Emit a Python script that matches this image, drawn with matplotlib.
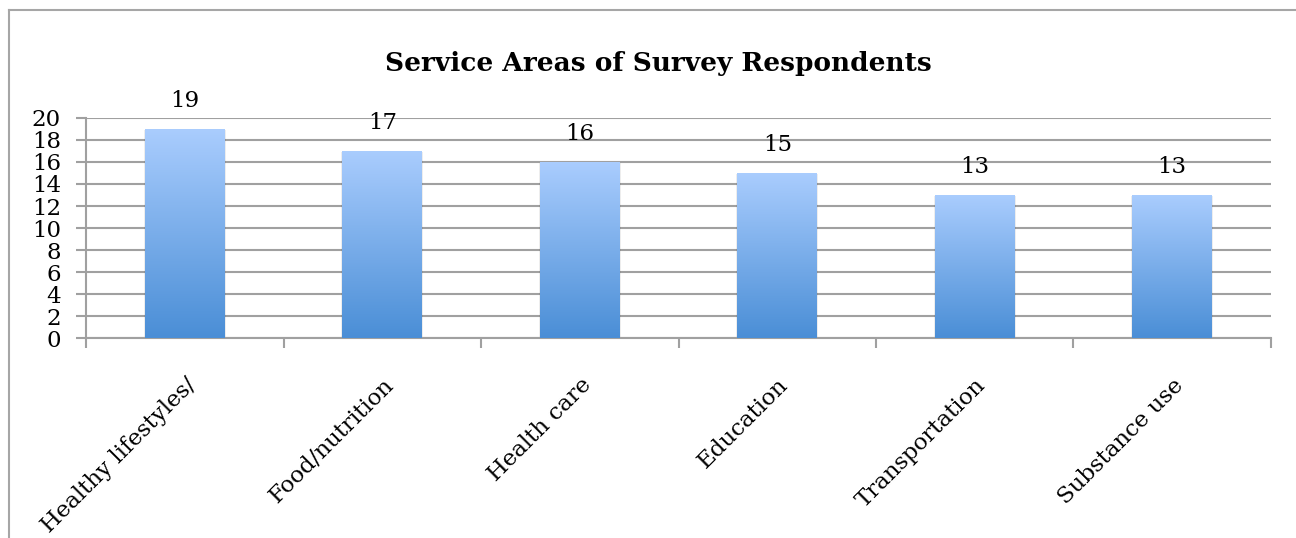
import numpy as np
from matplotlib import pyplot as plt
from matplotlib.colors import LinearSegmentedColormap
from matplotlib.lines import Line2D

categories = ["Healthy lifestyles/", "Food/nutrition", "Health care",
              "Education", "Transportation", "Substance use"]
counts = [19, 17, 16, 15, 13, 13]
y_ticks = [0, 2, 4, 6, 8, 10, 12, 14, 16, 18, 20]

plt.rcParams['font.family'] = ['DejaVu Serif']

fig = plt.figure(figsize=(12.96, 5.38), dpi=100)
ax = fig.add_axes([0.0664, 0.3717, 0.9143, 0.409])

# outer frame (top and left edges only visible)
fig.add_artist(Line2D([0.007, 1.0], [0.981, 0.981], transform=fig.transFigure,
                      color='#A6A6A6', lw=1.5))
fig.add_artist(Line2D([0.007, 0.007], [0.0, 0.981], transform=fig.transFigure,
                      color='#A6A6A6', lw=1.5))

x = np.arange(len(categories))
bars = ax.bar(x, counts, width=0.405, color='none', zorder=3)

grad = LinearSegmentedColormap.from_list('blues', ['#4A8ED6', '#AACDFE'])
gradient = np.linspace(0, 1, 256).reshape(-1, 1)
for b in bars:
    x0, y0 = b.get_x(), b.get_y()
    w, h = b.get_width(), b.get_height()
    # soft shadow
    ax.bar(x0 + w / 2, h + 0.1, width=w + 0.012, bottom=-0.15,
           color='#000000', alpha=0.07, zorder=2.5, lw=0)
    im = ax.imshow(gradient, cmap=grad, origin='lower', aspect='auto',
                   extent=[x0, x0 + w, y0, y0 + h], zorder=3)
    im.set_clip_path(b)
    ax.text(x0 + w / 2, h + 1.55, str(h if h % 1 else int(h)), ha='center',
            va='bottom', fontsize=16.5)

ax.set_xlim(-0.5, len(categories) - 0.5)
ax.set_ylim(0, 20)
ax.set_yticks(y_ticks)
ax.set_yticklabels([str(v) for v in y_ticks], fontsize=16.5)
ax.yaxis.grid(True, color='#A0A0A0', lw=1.5, zorder=1)
ax.set_axisbelow(True)

ax.set_xticks(np.arange(len(categories) + 1) - 0.5)
ax.set_xticklabels([])
ax.set_xticks(x, minor=True)
ax.set_xticklabels(categories, minor=True, rotation=45, ha='right',
                   va='top', rotation_mode='anchor', fontsize=16.5)
ax.tick_params(axis='x', which='minor', length=0, pad=26)
ax.tick_params(axis='x', which='major', length=7, width=1.5, color='#A0A0A0',
               direction='out')
ax.tick_params(axis='y', length=7, width=1.5, color='#A0A0A0', pad=11)

for s in ['top', 'right']:
    ax.spines[s].set_visible(False)
for s in ['left', 'bottom']:
    ax.spines[s].set_color('#A0A0A0')
    ax.spines[s].set_linewidth(1.5)

fig.text(0.508, 0.882, "Service Areas of Survey Respondents", ha='center',
         va='center', fontsize=19, fontweight='bold')

fig.savefig('out.png', dpi=100)
